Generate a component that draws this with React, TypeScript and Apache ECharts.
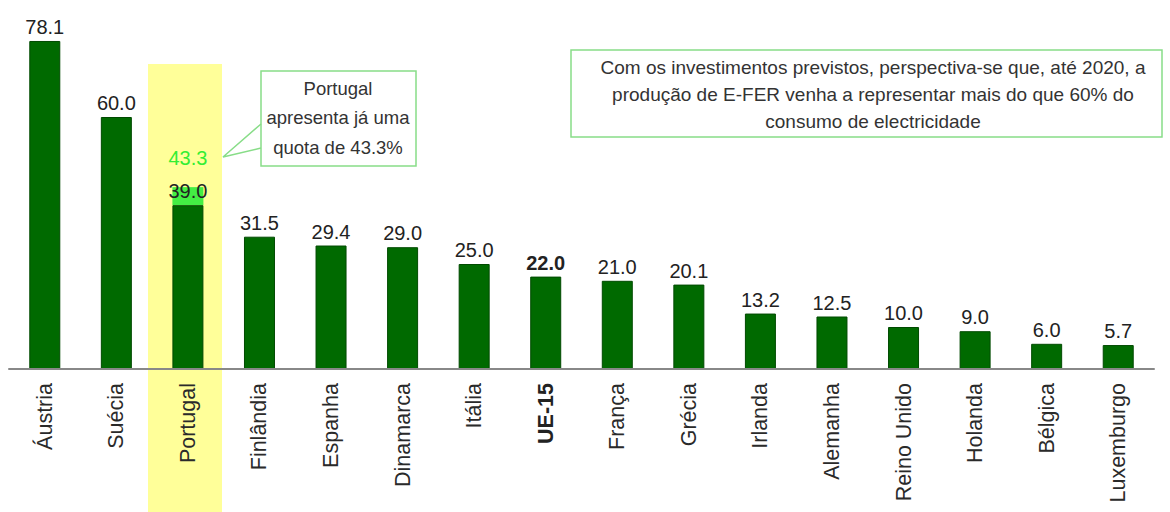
import React, { useEffect, useRef } from "react";
import * as echarts from "echarts";

const categories = ["Áustria", "Suécia", "Portugal", "Finlândia", "Espanha", "Dinamarca", "Itália", "UE-15", "França", "Grécia", "Irlanda", "Alemanha", "Reino Unido", "Holanda", "Bélgica", "Luxemburgo"];
const values = [78.1, 60.0, 39.0, 31.5, 29.4, 29.0, 25.0, 22.0, 21.0, 20.1, 13.2, 12.5, 10.0, 9.0, 6.0, 5.7];
const portugalExtra = [null, null, 4.3, null, null, null, null, null, null, null, null, null, null, null, null, null];
const portugalTotal = 43.3;
const boldCategory = "UE-15";
const noteSmall = ["Portugal", "apresenta já uma", "quota de 43.3%"];
const noteBig = ["Com os investimentos previstos, perspectiva-se que, até 2020, a", "produção de E-FER venha a representar mais do que 60% do", "consumo de electricidade"];

export default function App() {
  const ref = useRef<HTMLDivElement>(null);
  useEffect(() => {
    const chart = echarts.init(ref.current!, null, { renderer: "svg" });
    const font = "Liberation Sans, Arial, sans-serif";
    chart.setOption({
      animation: false,
      backgroundColor: "#ffffff",
      grid: { left: 9, right: 16, top: 33, bottom: 143 },
      xAxis: {
        type: "category",
        data: categories,
        axisLine: { lineStyle: { color: "#888888", width: 2 } },
        axisTick: { show: false },
        axisLabel: {
          rotate: 90,
          margin: 14,
          fontSize: 21.5,
          color: "#2a2a2a",
          fontFamily: font,
          interval: 0,
          formatter: (v: string) => (v === boldCategory ? `{b|${v}}` : v),
          rich: { b: { fontWeight: "bold", fontSize: 21.5, color: "#222222", fontFamily: font } },
        },
        z: 5,
      },
      yAxis: { type: "value", min: 0, max: 80, show: false, splitLine: { show: false } },
      series: [
        {
          type: "bar",
          stack: "s",
          barWidth: 31,
          data: values.map((v, i) => ({
            value: v,
            label: categories[i] === boldCategory ? { fontWeight: "bold" } : undefined,
          })),
          itemStyle: { color: "#006a00", borderColor: "#004a00", borderWidth: 1 },
          label: {
            show: true,
            position: "top",
            distance: 4,
            fontSize: 20,
            color: "#222222",
            fontFamily: font,
            formatter: (p: any) => Number(p.value).toFixed(1),
          },
          z: 3,
        },
        {
          type: "bar",
          stack: "s",
          barWidth: 31,
          data: portugalExtra,
          itemStyle: { color: "#44ee44" },
          label: {
            show: true,
            position: "top",
            distance: 19,
            fontSize: 20,
            color: "#33ee33",
            fontFamily: font,
            formatter: () => portugalTotal.toFixed(1),
          },
          z: 2,
        },
      ],
      graphic: [
        { type: "rect", z: -10, shape: { x: 148, y: 64, width: 74, height: 460 }, style: { fill: "#ffff99" } },
        { type: "rect", shape: { x: 261, y: 71, width: 155, height: 95 }, style: { fill: "#ffffff", stroke: "#88dd88", lineWidth: 1.5 } },
        { type: "polyline", shape: { points: [[261, 124], [223, 157], [261, 148]] }, style: { stroke: "#88dd88", lineWidth: 1.5, fill: null } },
        ...noteSmall.map((t, i) => ({
          type: "text",
          style: { text: t, x: 338, y: 88 + i * 29.5, align: "center", verticalAlign: "middle", fontSize: 18.5, fill: "#333333", fontFamily: font },
        })),
        { type: "rect", shape: { x: 571, y: 50, width: 591, height: 87 }, style: { fill: "#ffffff", stroke: "#88dd88", lineWidth: 1.5 } },
        ...noteBig.map((t, i) => ({
          type: "text",
          style: { text: t, x: 873, y: 67 + i * 27, align: "center", verticalAlign: "middle", fontSize: 19, fill: "#333333", fontFamily: font },
        })),
      ],
    });
    return () => chart.dispose();
  }, []);
  return <div ref={ref} style={{ position: "fixed", left: 0, top: 0, width: 1170, height: 512 }} />;
}
